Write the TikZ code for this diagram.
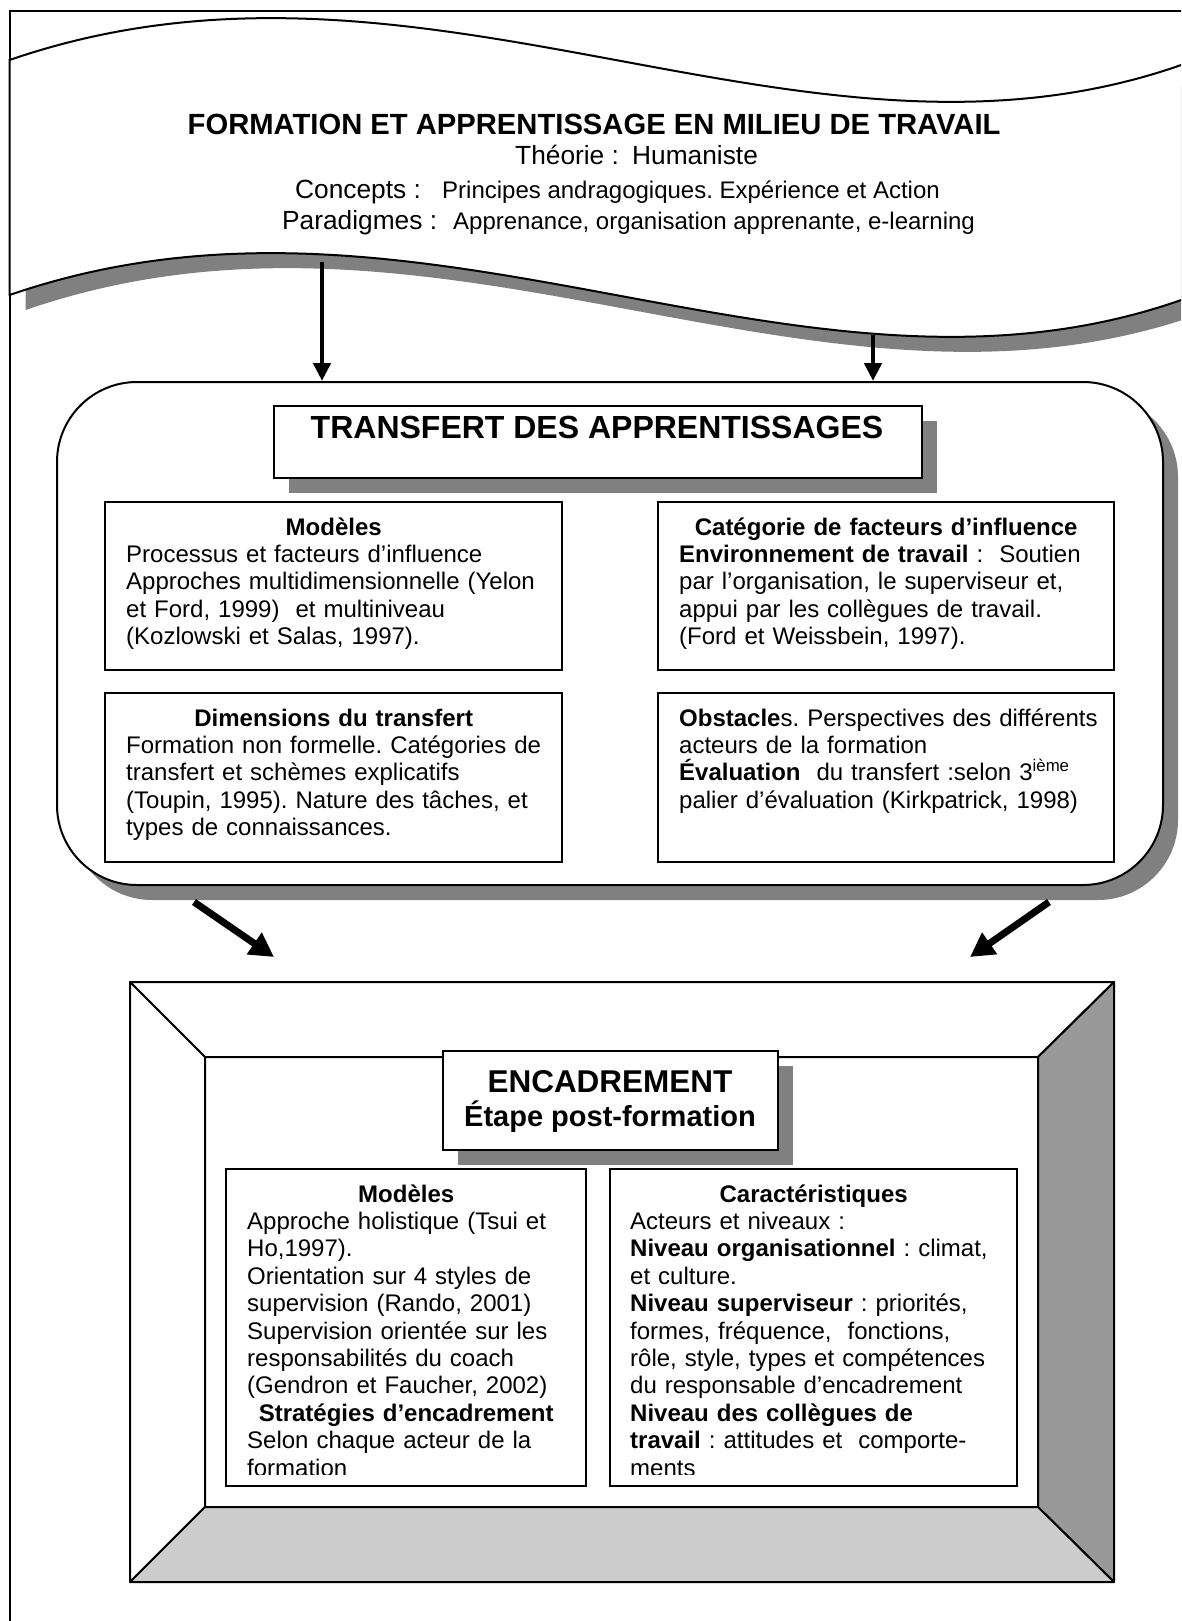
\documentclass[tikz,border=0pt]{standalone}
\usepackage{fontspec}
\setmainfont{Liberation Sans}
\usetikzlibrary{arrows.meta,shadows}
\definecolor{sgray}{HTML}{808080}
\definecolor{rgray}{HTML}{999999}
\definecolor{lgray}{HTML}{CCCCCC}
\newcommand\setfs[2]{\fontsize{#1}{#2}\selectfont}
\frenchspacing
\tikzset{
  lw/.style={line width=2pt},
  bx/.style={draw, line width=2pt, fill=white, inner sep=0pt},
  shad/.style={drop shadow={shadow xshift=15pt,shadow yshift=-15pt,fill=sgray,opacity=1}},
  txt/.style={anchor=base west, inner sep=0pt, align=left, text width=440pt, font=\setfs{24}{27.4}},
  lbl/.style={anchor=base west, inner sep=0pt, font=\setfs{26.3}{30}},
  sml/.style={anchor=base west, inner sep=0pt, font=\setfs{24}{28}},
  varrow/.style={line width=4.5pt, -{Triangle[width=17pt,length=18pt]}},
  darrow/.style={line width=7pt, -{Triangle[width=25pt,length=24pt]}},
}
\begin{document}
\frenchspacing
\begin{tikzpicture}[x=1pt,y=-1pt]
\useasboundingbox (0,0) rectangle (1181,1621);
\begin{scope}
\clip (0,0) rectangle (1181,1621);
% page frame
\draw[lw] (9.6,1630) -- (9.6,11) -- (1190,11);
% banner shadow and banner
\fill[sgray, shift={(16,15)}] (9.6,60) .. controls (430,-85) and (810,205) .. (1195,60) -- (1195,295) .. controls (810,440) and (430,150) .. (9.6,295) -- cycle;
\filldraw[lw, fill=white] (9.6,60) .. controls (430,-85) and (810,205) .. (1195,60) -- (1195,295) .. controls (810,440) and (430,150) .. (9.6,295) -- cycle;
\end{scope}
% banner texts
\node[anchor=base west, inner sep=0pt, font=\bfseries\setfs{29.2}{34}] (t1) at (187.5,135) {FORMATION ET APPRENTISSAGE EN MILIEU DE TRAVAIL};
\node[lbl] (t2a) at (515,165) {Théorie :};
\node[lbl] (t2b) at (632,165) {Humaniste};
\node[lbl] (t3a) at (295,199) {Concepts :};
\node[sml] (t3b) at (442,199) {Principes andragogiques. Expérience et Action};
\node[lbl] (t4a) at (282,230) {Paradigmes :};
\node[sml] (t4b) at (453,230) {Apprenance, organisation apprenante, e-learning};

% transfert rounded box
\node[bx, shad, rounded corners=80pt, minimum width=1106pt, minimum height=503pt] (rr) at (610,633.5) {};
\node[bx, shad, minimum width=648pt, minimum height=72pt] (ttl) at (598,442) {};
\node[anchor=base, inner sep=0pt, font=\bfseries\setfs{32}{36}] (ttltxt) at (597,438) {TRANSFERT DES APPRENTISSAGES};

\node[bx, minimum width=457pt, minimum height=168pt] (m1) at (333.5,586) {};
\node[bx, minimum width=457pt, minimum height=169pt] (m2) at (333.5,777.5) {};
\node[bx, minimum width=456pt, minimum height=168pt] (c1) at (886,586) {};
\node[bx, minimum width=456pt, minimum height=169pt] (c2) at (886,777.5) {};

\node[txt] (m1t) at (126,535) {\makebox[415pt]{\textbf{Modèles}}\\
Processus et facteurs d’influence\\
Approches multidimensionnelle (Yelon\\
et Ford, 1999)\ \ et multiniveau\\
(Kozlowski et Salas, 1997).};
\node[txt] (m2t) at (126,726) {\makebox[415pt]{\textbf{Dimensions du transfert}}\\
Formation non formelle. Catégories de\\
transfert et schèmes explicatifs\\
(Toupin, 1995). Nature des tâches, et\\
types de connaissances.};
\node[txt] (c1t) at (679,535) {\makebox[414pt]{\textbf{Catégorie de facteurs d’influence}}\\
\textbf{Environnement de travail} :\ \ Soutien\\
par l’organisation, le superviseur et,\\
appui par les collègues de travail.\\
(Ford et Weissbein, 1997).};
\node[txt] (c2t) at (679,726) {\textbf{Obstacle}s. Perspectives des différents\\
acteurs de la formation\\
\textbf{Évaluation}\ \ du transfert :selon 3\textsuperscript{ième}\\
palier d’évaluation (Kirkpatrick, 1998)};

% arrows from banner
\coordinate (a1) at (322,262);
\coordinate (a2) at (873,335);
\draw[varrow] (a1) -- (a1 |- rr.north);
\draw[varrow] (a2) -- (a2 |- rr.north);

% diagonal arrows
\coordinate (d1s) at (194,902);
\coordinate (d1e) at (274,957);
\coordinate (d2s) at (1049,902);
\coordinate (d2e) at (970,957);
\draw[darrow] (d1s) -- (d1e);
\draw[darrow] (d2s) -- (d2e);

% bevel frame
\coordinate (o1) at (130,982);
\coordinate (o2) at (1114,982);
\coordinate (o3) at (1114,1582);
\coordinate (o4) at (130,1582);
\coordinate (i1) at (205,1057);
\coordinate (i2) at (1038,1057);
\coordinate (i3) at (1038,1507);
\coordinate (i4) at (205,1507);
\filldraw[lw, fill=white, line join=round] (o1) -- (o2) -- (i2) -- (i1) -- cycle;
\filldraw[lw, fill=white, line join=round] (o1) -- (i1) -- (i4) -- (o4) -- cycle;
\filldraw[lw, fill=rgray, line join=round] (o2) -- (o3) -- (i3) -- (i2) -- cycle;
\filldraw[lw, fill=lgray, line join=round] (o4) -- (i4) -- (i3) -- (o3) -- cycle;

% encadrement title
\node[bx, shad, minimum width=335pt, minimum height=99pt] (enc) at (610.5,1100.5) {};
\node[anchor=base, inner sep=0pt, font=\bfseries\setfs{31.5}{36}] (enc1) at (610,1092) {ENCADREMENT};
\node[anchor=base, inner sep=0pt, font=\bfseries\setfs{29}{34}] (enc2) at (610,1126) {Étape post-formation};

% bottom boxes
\node[bx, minimum width=360pt, minimum height=317pt] (b1) at (406,1327.5) {};
\node[bx, minimum width=407pt, minimum height=317pt] (b2) at (813.5,1327.5) {};
\begin{scope}
\clip (226,1169) rectangle (1017,1474);
\node[txt] (b1t) at (247,1202) {\makebox[318pt]{\textbf{Modèles}}\\
Approche holistique (Tsui et\\
Ho,1997).\\
Orientation sur 4 styles de\\
supervision (Rando, 2001)\\
Supervision orientée sur les\\
responsabilités du coach\\
(Gendron et Faucher, 2002)\\
\makebox[318pt]{\textbf{Stratégies d’encadrement}}\\
Selon chaque acteur de la\\
formation};
\node[txt] (b2t) at (630,1202) {\makebox[367pt]{\textbf{Caractéristiques}}\\
Acteurs et niveaux :\\
\textbf{Niveau organisationnel} : climat,\\
et culture.\\
\textbf{Niveau superviseur} : priorités,\\
formes, fréquence,\ \ fonctions,\\
rôle, style, types et compétences\\
du responsable d’encadrement\\
\textbf{Niveau des collègues de}\\
\textbf{travail} : attitudes et\ \ comporte-\\
ments};
\end{scope}
\end{tikzpicture}
\end{document}
